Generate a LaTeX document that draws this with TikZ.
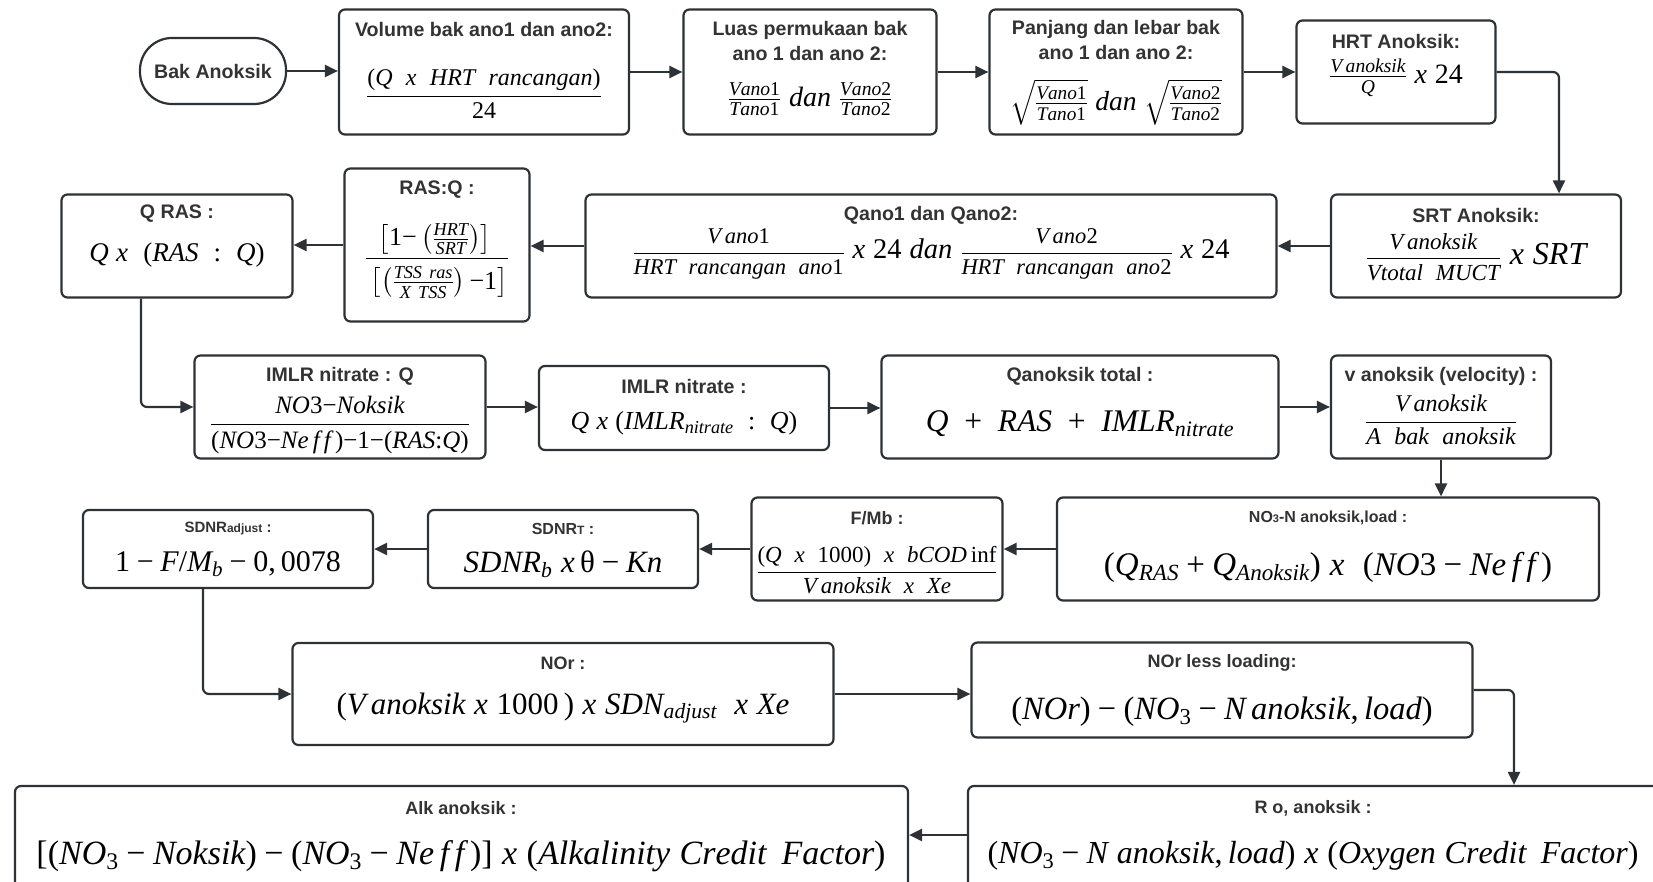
\RequirePackage{fix-cm}
\documentclass[tikz,border=0pt]{standalone}
\usepackage{amsmath}
\usepackage[no-math]{fontspec}
\setmainfont{Liberation Sans}
\newfontfamily\serifmath[NFSSFamily=libserif]{Liberation Serif}
\usetikzlibrary{arrows.meta}

% Times-like letters and digits in formulas
\DeclareSymbolFont{tuit}{TU}{libserif}{m}{it}
\DeclareSymbolFont{tuup}{TU}{libserif}{m}{n}
\newcount\mcc
\mcc=65
\loop \Umathcode\mcc=7 \symtuit \mcc \advance\mcc by 1 \ifnum\mcc<91 \repeat
\mcc=97
\loop \Umathcode\mcc=7 \symtuit \mcc \advance\mcc by 1 \ifnum\mcc<123 \repeat
\mcc=48
\loop \Umathcode\mcc=0 \symtuup \mcc \advance\mcc by 1 \ifnum\mcc<58 \repeat
\Umathcode`(=4 \symtuup `(
\Umathcode`)=5 \symtuup `)
\Umathcode`[=4 \symtuup `[
\Umathcode`]=5 \symtuup `]
\Umathcode`+=2 \symtuup `+
\Umathcode`-=2 \symtuup "2212
\Umathcode`:=3 \symtuup `:
\Umathcode`,=6 \symtuup `,
\Umathcode`/=0 \symtuup `/
\Umathcode"03B8=0 \symtuup "03B8

\newcommand\fs[1]{\fontsize{#1}{#1}\selectfont}
\newcommand\fsl[2]{\fontsize{#1}{#2}\selectfont}
\newcommand\up[1]{\text{\serifmath #1}}

\definecolor{lc}{HTML}{2E3236}
\definecolor{tc}{HTML}{333333}

\tikzset{
  box/.style={draw=lc, line width=2.2pt, rounded corners=6pt, fill=white, inner sep=0pt},
  ttl/.style={text=tc, font=\bfseries\fsl{19.6}{24.5}, inner sep=0pt, align=center},
  ttlb/.style={text=tc, font=\bfseries\fs{18}, inner sep=0pt, align=center},
  fml/.style={text=black, inner sep=0pt},
  conn/.style={draw=lc, line width=2.2pt, rounded corners=6pt,
    -{Triangle[length=13pt,width=12pt]}},
}

\begin{document}
\begin{tikzpicture}[x=1pt,y=-1pt]
\useasboundingbox (0,0) rectangle (1653,882);
\fill[white] (0,0) rectangle (1653,882);
\clip (0,0) rectangle (1653,882);

% ---------- row 1 ----------
\node[box, rounded corners=32pt, minimum width=146pt, minimum height=66pt] (bak) at (213,71) {};
\node[ttl] (bak-t) at (213,71) {Bak Anoksik};

\node[box, minimum width=290pt, minimum height=125pt] (vol) at (484,72) {};
\node[ttl] (vol-t) at (484,29) {Volume bak ano1 dan ano2:};
\node[fml] (vol-f) at (484,94) {\fs{24}$\dfrac{(Q\ \ x\ \ HRT\ \ rancangan)}{24}$};

\node[box, minimum width=253pt, minimum height=125pt] (luas) at (810,72) {};
\node[ttl] (luas-t) at (810,41) {Luas permukaan bak\\ano 1 dan ano 2:};
\node[fml] (luas-f) at (810,99) {\fs{28}$\frac{Vano1}{Tano1}\ dan\ \frac{Vano2}{Tano2}$};

\node[box, minimum width=253pt, minimum height=125pt] (panj) at (1116,72) {};
\node[ttl] (panj-t) at (1116,40) {Panjang dan lebar bak\\ano 1 dan ano 2:};
\node[fml] (panj-f) at (1116,102) {\fs{27.5}$\sqrt{\frac{Vano1}{Tano1}}\ dan\ \sqrt{\frac{Vano2}{Tano2}}$};

\node[box, minimum width=199pt, minimum height=103pt] (hrt) at (1396,72) {};
\node[ttl] (hrt-t) at (1396,41) {HRT Anoksik:};
\node[fml] (hrt-f) at (1396,78) {\fs{28}$\frac{V\,anoksik}{Q}\ x\ 24$};

% ---------- row 2 ----------
\node[box, minimum width=290pt, minimum height=103pt] (srt) at (1476,246) {};
\node[ttl] (srt-t) at (1476,215) {SRT Anoksik:};
\node[fml] (srt-f) at (1476,257) {{\fs{23}$\dfrac{V\,anoksik}{Vtotal\ \ MUCT}$}{\fs{32}$\ x\ SRT$}};

\node[box, minimum width=691pt, minimum height=103pt] (qano) at (931,246) {};
\node[ttl] (qano-t) at (931,215) {Qano1 dan Qano2:};
\node[fml] (qano-f) at (931,254) {{\fs{22.5}$\dfrac{V\,ano1}{HRT\ \ rancangan\ \ ano1}$}{\fs{28.5}$\ x\ 24\ dan\ $}{\fs{22.5}$\dfrac{V\,ano2}{HRT\ \ rancangan\ \ ano2}$}{\fs{28.5}$\ x\ 24$}};

\node[box, minimum width=185pt, minimum height=153pt] (rasq) at (437,245) {};
\node[ttl] (rasq-t) at (437,190) {RAS:Q :};
\node[fml] (rasq-f) at (437,261) {\fs{26}$\dfrac{\left[1{-}\left(\frac{HRT}{SRT}\right)\right]\rule[-5pt]{0pt}{0pt}}{\rule{0pt}{27pt}\left[\left(\frac{TSS\ ras}{X\ TSS}\right){-}1\right]}$};

\node[box, minimum width=231pt, minimum height=103pt] (qras) at (177,246) {};
\node[ttl] (qras-t) at (177,214) {Q RAS :};
\node[fml] (qras-f) at (177,255) {\fs{27}$Q\ x\ \ (RAS\ :\ Q)$};

% ---------- row 3 ----------
\node[box, minimum width=291pt, minimum height=103pt] (imlrq) at (340,407) {};
\node[ttl] (imlrq-t) at (340,376) {IMLR nitrate : Q};
\node[fml] (imlrq-f) at (340,425) {\fs{25}$\dfrac{NO3{-}Noksik}{(NO3{-}Ne\,f\,f\,){-}1{-}(RAS{:}Q)}$};

\node[box, minimum width=290pt, minimum height=84pt] (imlr) at (684,408) {};
\node[ttl] (imlr-t) at (684,386) {IMLR nitrate :};
\node[fml] (imlr-f) at (684,423) {\fs{26}$Q\ x\ (IMLR_{nitrate}\ :\ Q)$};

\node[box, minimum width=397pt, minimum height=103pt] (qtot) at (1080,407) {};
\node[ttl] (qtot-t) at (1080,376) {Qanoksik total :};
\node[fml] (qtot-f) at (1080,424) {\fs{31.5}$Q\ +\ RAS\ +\ IMLR_{nitrate}$};

\node[box, minimum width=220pt, minimum height=103pt] (vel) at (1441,407) {};
\node[ttl] (vel-t) at (1441,376) {v anoksik (velocity) :};
\node[fml] (vel-f) at (1441,420) {\fs{24}$\dfrac{V\,anoksik}{A\ \ bak\ \ anoksik}$};

% ---------- row 4 ----------
\node[box, minimum width=542pt, minimum height=103pt] (no3n) at (1328,549) {};
\node[ttl, font=\bfseries\fs{16}] (no3n-t) at (1328,518) {NO{\fs{11}3}-N anoksik,load :};
\node[fml] (no3n-f) at (1328,567) {\fs{33}$(Q_{RAS}+Q_{Anoksik})\ x\ \ (NO3-Ne\,f\,f\,)$};

\node[box, minimum width=251pt, minimum height=103pt] (fmb) at (877,549) {};
\node[ttl, font=\bfseries\fs{18}] (fmb-t) at (877,518) {F/Mb :};
\node[fml] (fmb-f) at (877,570) {\fs{23}$\dfrac{(Q\ \ x\ \ 1000)\ \ x\ \ bCOD\,\up{inf}}{V\,anoksik\ \ x\ \ Xe}$};

\node[box, minimum width=270pt, minimum height=78pt] (sdnrt) at (563,549) {};
\node[ttl, font=\bfseries\fs{16}] (sdnrt-t) at (563,529) {SDNR{\fs{12}T} :};
\node[fml] (sdnrt-f) at (563,564) {\fs{31}$SDNR_b\ x\,θ-Kn$};

\node[box, minimum width=290pt, minimum height=78pt] (sdnra) at (228,549) {};
\node[ttl, font=\bfseries\fs{15}] (sdnra-t) at (228,529) {SDNR{\fs{12}adjust} :};
\node[fml] (sdnra-f) at (228,564) {\fs{30}$1-F/M_b-0,0078$};

% ---------- row 5 ----------
\node[box, minimum width=541pt, minimum height=102pt] (nor) at (563,694) {};
\node[ttlb] (nor-t) at (563,663) {NOr :};
\node[fml] (nor-f) at (563,708) {\fs{31}$(V\,anoksik\ x\ 1000\,)\ x\ SDN_{adjust}\ \ x\ Xe$};

\node[box, minimum width=501pt, minimum height=95pt] (norl) at (1222,690) {};
\node[ttlb] (norl-t) at (1222,663) {NOr less loading:};
\node[fml] (norl-f) at (1222,712) {\fs{32.5}$(NOr)-(NO_3-N\,anoksik, load)$};

% ---------- row 6 ----------
\node[box, minimum width=692pt, minimum height=114pt] (ro) at (1314,843) {};
\node[ttlb] (ro-t) at (1313,808) {R o, anoksik :};
\node[fml] (ro-f) at (1313,856) {\fs{32}$(NO_3-N\ anoksik, load)\ x\ (Oxygen\ Credit\ \,Factor)$};

\node[box, minimum width=893pt, minimum height=114pt] (alk) at (461.5,843) {};
\node[ttlb] (alk-t) at (461,808) {Alk anoksik :};
\node[fml] (alk-f) at (461,856) {\fs{34}$[(NO_3-Noksik)-(NO_3-Ne\,f\,f\,)]\ x\ (Alkalinity\ Credit\ \,Factor)$};

% ---------- connectors ----------
\draw[conn] (bak.east) -- (bak.east -| vol.west);
\draw[conn] (vol.east) -- (luas.west);
\draw[conn] (luas.east) -- (panj.west);
\draw[conn] (panj.east) -- (hrt.west);
\draw[conn] (hrt.east) -| ([xshift=83pt]srt.north);
\draw[conn] (srt.west) -- (qano.east);
\draw[conn] (qano.west) -- (qano.west -| rasq.east);
\draw[conn] (rasq.west) -- (rasq.west -| qras.east);
\draw[conn] ([xshift=-36pt]qras.south) |- (imlrq.west);
\draw[conn] (imlrq.east) -- (imlrq.east -| imlr.west);
\draw[conn] (imlr.east) -- (imlr.east -| qtot.west);
\draw[conn] (qtot.east) -- (vel.west);
\draw[conn] (vel.south) -- (vel.south |- no3n.north);
\draw[conn] (no3n.west) -- (fmb.east);
\draw[conn] (fmb.west) -- (sdnrt.east);
\draw[conn] (sdnrt.west) -- (sdnra.east);
\draw[conn] ([xshift=-25pt]sdnra.south) |- (nor.west);
\draw[conn] (nor.east) -- (nor.east -| norl.west);
\draw[conn] (norl.east) -| ([xshift=200pt]ro.north);
\draw[conn] ([yshift=8pt]ro.west) -- ([yshift=8pt]ro.west -| alk.east);
\end{tikzpicture}
\end{document}
